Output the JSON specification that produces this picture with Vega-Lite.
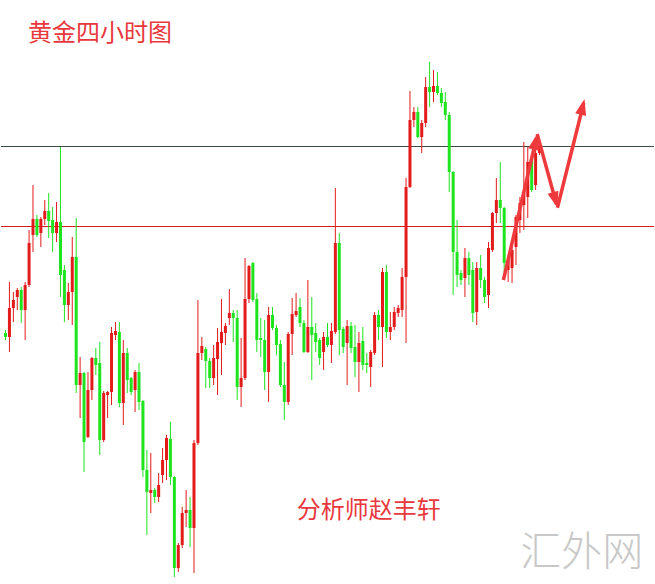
{
  "$schema": "https://vega.github.io/schema/vega-lite/v6.json",
  "width": 655,
  "height": 584,
  "autosize": {"type": "fit", "contains": "padding"},
  "padding": 0,
  "background": "white",
  "config": {"view": {"stroke": null}},
  "datasets": {
    "candles": [
      {"i":-1,"o":267,"h":270,"l":260,"c":263},
      {"i":0,"o":263,"h":318,"l":248,"c":292},
      {"i":1,"o":292,"h":308,"l":278,"c":300},
      {"i":2,"o":303,"h":312,"l":290,"c":310},
      {"i":3,"o":310,"h":313,"l":277,"c":290},
      {"i":4,"o":290,"h":318,"l":260,"c":315},
      {"i":5,"o":315,"h":370,"l":313,"c":357},
      {"i":6,"o":365,"h":415,"l":348,"c":381},
      {"i":7,"o":381,"h":385,"l":363,"c":365},
      {"i":8,"o":367,"h":383,"l":353,"c":381},
      {"i":9,"o":381,"h":400,"l":375,"c":389},
      {"i":10,"o":389,"h":407,"l":362,"c":379},
      {"i":11,"o":380,"h":393,"l":348,"c":367},
      {"i":12,"o":367,"h":398,"l":358,"c":378},
      {"i":13,"o":378,"h":453,"l":303,"c":325},
      {"i":14,"o":330,"h":335,"l":278,"c":295},
      {"i":15,"o":295,"h":317,"l":280,"c":308},
      {"i":16,"o":308,"h":363,"l":275,"c":343},
      {"i":17,"o":343,"h":382,"l":207,"c":215},
      {"i":18,"o":215,"h":243,"l":182,"c":227},
      {"i":19,"o":227,"h":228,"l":128,"c":158},
      {"i":20,"o":163,"h":228,"l":162,"c":210},
      {"i":21,"o":210,"h":243,"l":200,"c":242},
      {"i":22,"o":242,"h":252,"l":225,"c":235},
      {"i":23,"o":237,"h":258,"l":145,"c":160},
      {"i":24,"o":160,"h":209,"l":158,"c":207},
      {"i":25,"o":205,"h":209,"l":182,"c":208},
      {"i":26,"o":208,"h":273,"l":195,"c":267},
      {"i":27,"o":265,"h":278,"l":260,"c":269},
      {"i":28,"o":268,"h":278,"l":193,"c":197},
      {"i":29,"o":197,"h":260,"l":175,"c":247},
      {"i":30,"o":247,"h":252,"l":207,"c":220},
      {"i":31,"o":222,"h":223,"l":205,"c":208},
      {"i":32,"o":210,"h":230,"l":188,"c":228},
      {"i":33,"o":228,"h":237,"l":190,"c":198},
      {"i":34,"o":199,"h":200,"l":123,"c":130},
      {"i":35,"o":130,"h":150,"l":65,"c":108},
      {"i":36,"o":107,"h":147,"l":87,"c":110},
      {"i":37,"o":110,"h":112,"l":97,"c":103},
      {"i":38,"o":103,"h":127,"l":98,"c":115},
      {"i":39,"o":125,"h":152,"l":117,"c":140},
      {"i":40,"o":140,"h":165,"l":120,"c":162},
      {"i":41,"o":161,"h":178,"l":115,"c":123},
      {"i":42,"o":123,"h":124,"l":23,"c":32},
      {"i":43,"o":32,"h":57,"l":28,"c":55},
      {"i":44,"o":55,"h":93,"l":52,"c":87},
      {"i":45,"o":87,"h":110,"l":73,"c":90},
      {"i":46,"o":90,"h":103,"l":53,"c":72},
      {"i":47,"o":72,"h":160,"l":27,"c":157},
      {"i":48,"o":157,"h":300,"l":155,"c":247},
      {"i":49,"o":247,"h":263,"l":240,"c":254},
      {"i":50,"o":251,"h":253,"l":212,"c":239},
      {"i":51,"o":239,"h":242,"l":212,"c":222},
      {"i":52,"o":222,"h":255,"l":215,"c":242},
      {"i":53,"o":241,"h":272,"l":205,"c":258},
      {"i":54,"o":257,"h":301,"l":225,"c":268},
      {"i":55,"o":267,"h":277,"l":255,"c":274},
      {"i":56,"o":282,"h":311,"l":275,"c":287},
      {"i":57,"o":287,"h":290,"l":258,"c":282},
      {"i":58,"o":282,"h":290,"l":200,"c":213},
      {"i":59,"o":213,"h":262,"l":193,"c":222},
      {"i":60,"o":222,"h":342,"l":220,"c":301},
      {"i":61,"o":301,"h":335,"l":297,"c":334},
      {"i":62,"o":337,"h":338,"l":298,"c":300},
      {"i":63,"o":301,"h":307,"l":248,"c":260},
      {"i":64,"o":262,"h":282,"l":243,"c":260},
      {"i":65,"o":260,"h":280,"l":210,"c":228},
      {"i":66,"o":228,"h":293,"l":198,"c":285},
      {"i":67,"o":285,"h":293,"l":270,"c":272},
      {"i":68,"o":272,"h":275,"l":245,"c":255},
      {"i":69,"o":256,"h":260,"l":213,"c":215},
      {"i":70,"o":215,"h":238,"l":180,"c":198},
      {"i":71,"o":198,"h":268,"l":195,"c":266},
      {"i":72,"o":266,"h":302,"l":245,"c":286},
      {"i":73,"o":285,"h":307,"l":283,"c":289},
      {"i":74,"o":293,"h":302,"l":273,"c":277},
      {"i":75,"o":277,"h":280,"l":247,"c":248},
      {"i":76,"o":248,"h":320,"l":247,"c":273},
      {"i":77,"o":273,"h":303,"l":220,"c":265},
      {"i":78,"o":267,"h":277,"l":248,"c":258},
      {"i":79,"o":260,"h":262,"l":235,"c":242},
      {"i":80,"o":248,"h":268,"l":230,"c":263},
      {"i":81,"o":263,"h":277,"l":253,"c":255},
      {"i":82,"o":255,"h":277,"l":237,"c":269},
      {"i":83,"o":268,"h":412,"l":266,"c":357},
      {"i":84,"o":357,"h":367,"l":245,"c":270},
      {"i":85,"o":271,"h":273,"l":247,"c":253},
      {"i":86,"o":257,"h":280,"l":215,"c":274},
      {"i":87,"o":274,"h":278,"l":247,"c":252},
      {"i":88,"o":253,"h":275,"l":223,"c":238},
      {"i":89,"o":238,"h":268,"l":208,"c":257},
      {"i":90,"o":259,"h":273,"l":230,"c":235},
      {"i":91,"o":237,"h":247,"l":227,"c":235},
      {"i":92,"o":233,"h":250,"l":213,"c":248},
      {"i":93,"o":247,"h":288,"l":245,"c":285},
      {"i":94,"o":285,"h":290,"l":260,"c":273},
      {"i":95,"o":273,"h":332,"l":233,"c":328},
      {"i":96,"o":328,"h":335,"l":262,"c":268},
      {"i":97,"o":268,"h":288,"l":260,"c":273},
      {"i":98,"o":273,"h":293,"l":270,"c":288},
      {"i":99,"o":287,"h":295,"l":283,"c":292},
      {"i":100,"o":290,"h":332,"l":283,"c":323},
      {"i":101,"o":323,"h":422,"l":257,"c":413},
      {"i":102,"o":413,"h":509,"l":412,"c":480},
      {"i":103,"o":480,"h":493,"l":473,"c":488},
      {"i":104,"o":488,"h":493,"l":462,"c":463},
      {"i":105,"o":463,"h":480,"l":447,"c":477},
      {"i":106,"o":477,"h":523,"l":473,"c":513},
      {"i":107,"o":513,"h":538,"l":493,"c":508},
      {"i":108,"o":508,"h":530,"l":498,"c":514},
      {"i":109,"o":514,"h":528,"l":505,"c":507},
      {"i":110,"o":507,"h":512,"l":493,"c":497},
      {"i":111,"o":498,"h":508,"l":480,"c":485},
      {"i":112,"o":485,"h":488,"l":408,"c":428},
      {"i":113,"o":428,"h":429,"l":305,"c":348},
      {"i":114,"o":348,"h":380,"l":313,"c":325},
      {"i":115,"o":327,"h":330,"l":315,"c":320},
      {"i":116,"o":322,"h":352,"l":303,"c":342},
      {"i":117,"o":342,"h":348,"l":315,"c":325},
      {"i":118,"o":330,"h":338,"l":278,"c":287},
      {"i":119,"o":288,"h":338,"l":275,"c":332},
      {"i":120,"o":332,"h":345,"l":312,"c":320},
      {"i":121,"o":320,"h":323,"l":297,"c":303},
      {"i":122,"o":305,"h":358,"l":292,"c":352},
      {"i":123,"o":350,"h":388,"l":348,"c":387},
      {"i":124,"o":387,"h":422,"l":377,"c":400},
      {"i":125,"o":400,"h":438,"l":377,"c":392},
      {"i":126,"o":392,"h":393,"l":328,"c":337},
      {"i":127,"o":330,"h":345,"l":318,"c":340},
      {"i":128,"o":332,"h":353,"l":317,"c":350},
      {"i":129,"o":353,"h":385,"l":335,"c":383},
      {"i":130,"o":380,"h":403,"l":367,"c":397},
      {"i":131,"o":395,"h":458,"l":370,"c":407},
      {"i":132,"o":403,"h":453,"l":382,"c":438},
      {"i":133,"o":443,"h":445,"l":408,"c":410},
      {"i":134,"o":415,"h":452,"l":410,"c":447},
      {"i":135,"o":447,"h":460,"l":445,"c":455}
    ],
    "levels": [
      {"level": "resistance", "p": 453.5},
      {"level": "support", "p": 373.5}
    ],
    "arrows": [
      {"seg": "A", "ord": 0, "i": 125.8, "p": 320},
      {"seg": "A", "ord": 1, "i": 134.2, "p": 462},
      {"seg": "B", "ord": 0, "i": 134.4, "p": 466},
      {"seg": "B", "ord": 1, "i": 139.3, "p": 396},
      {"seg": "C", "ord": 0, "i": 139.55, "p": 392.3},
      {"seg": "C", "ord": 1, "i": 146.25, "p": 497}
    ],
    "heads": [
      {"i": 134.4, "p": 466, "dir": 13},
      {"i": 139.55, "p": 392.3, "dir": 164},
      {"i": 146.45, "p": 501, "dir": 14}
    ],
    "labels": [
      {"kind": "title", "i": 4.7, "p": 566, "text": "黄金四小时图"},
      {"kind": "author", "i": 73.2, "p": 89, "text": "分析师赵丰轩"}
    ],
    "marks": [
      {"i": 130.1, "p": 46, "text": "汇外网"}
    ]
  },
  "layer": [
    {
      "data": {"name": "levels"},
      "mark": {"type": "rule", "strokeWidth": 1},
      "encoding": {
        "y": {"field": "p", "type": "quantitative", "scale": {"domain": [16, 600], "nice": false, "zero": false}, "axis": null},
        "color": {"field": "level", "type": "nominal", "scale": {"domain": ["resistance", "support"], "range": ["#3a4848", "#d61e1e"]}, "legend": null}
      }
    },
    {
      "data": {"name": "candles"},
      "encoding": {
        "x": {"field": "i", "type": "quantitative", "scale": {"domain": [-0.875, 162.875], "nice": false, "zero": false}, "axis": null},
        "color": {"condition": {"test": "datum.c >= datum.o", "value": "#e31b1b"}, "value": "#1ee41e"}
      },
      "layer": [
        {
          "mark": {"type": "rule", "strokeWidth": 1, "clip": true},
          "encoding": {
            "y": {"field": "l", "type": "quantitative", "scale": {"domain": [16, 600], "nice": false, "zero": false}, "axis": null},
            "y2": {"field": "h"}
          }
        },
        {
          "mark": {"type": "bar", "size": 3, "clip": true},
          "encoding": {
            "y": {"field": "o", "type": "quantitative", "scale": {"domain": [16, 600], "nice": false, "zero": false}, "axis": null},
            "y2": {"field": "c"}
          }
        }
      ]
    },
    {
      "data": {"name": "arrows"},
      "mark": {"type": "line", "strokeWidth": 3.5, "color": "#ee3a3c", "strokeCap": "butt"},
      "encoding": {
        "x": {"field": "i", "type": "quantitative", "scale": {"domain": [-0.875, 162.875], "nice": false, "zero": false}, "axis": null},
        "y": {"field": "p", "type": "quantitative", "scale": {"domain": [16, 600], "nice": false, "zero": false}, "axis": null},
        "detail": {"field": "seg"},
        "order": {"field": "ord"}
      }
    },
    {
      "data": {"name": "heads"},
      "mark": {"type": "point", "shape": "M0,0L0.7,2L-0.7,2Z", "filled": true, "size": 256, "opacity": 1, "color": "#ee3a3c"},
      "encoding": {
        "x": {"field": "i", "type": "quantitative", "scale": {"domain": [-0.875, 162.875], "nice": false, "zero": false}, "axis": null},
        "y": {"field": "p", "type": "quantitative", "scale": {"domain": [16, 600], "nice": false, "zero": false}, "axis": null},
        "angle": {"field": "dir", "type": "quantitative", "scale": null}
      }
    },
    {
      "data": {"name": "labels"},
      "mark": {"type": "text", "align": "left", "baseline": "middle", "font": "Noto Sans CJK SC", "fontSize": 24, "color": "#e8383d"},
      "encoding": {
        "x": {"field": "i", "type": "quantitative", "scale": {"domain": [-0.875, 162.875], "nice": false, "zero": false}, "axis": null},
        "y": {"field": "p", "type": "quantitative", "scale": {"domain": [16, 600], "nice": false, "zero": false}, "axis": null},
        "text": {"field": "text"}
      }
    },
    {
      "data": {"name": "marks"},
      "mark": {"type": "text", "align": "left", "baseline": "middle", "font": "Noto Sans CJK SC", "fontSize": 41, "fontWeight": 300, "color": "#c8c8c8"},
      "encoding": {
        "x": {"field": "i", "type": "quantitative", "scale": {"domain": [-0.875, 162.875], "nice": false, "zero": false}, "axis": null},
        "y": {"field": "p", "type": "quantitative", "scale": {"domain": [16, 600], "nice": false, "zero": false}, "axis": null},
        "text": {"field": "text"}
      }
    }
  ]
}
